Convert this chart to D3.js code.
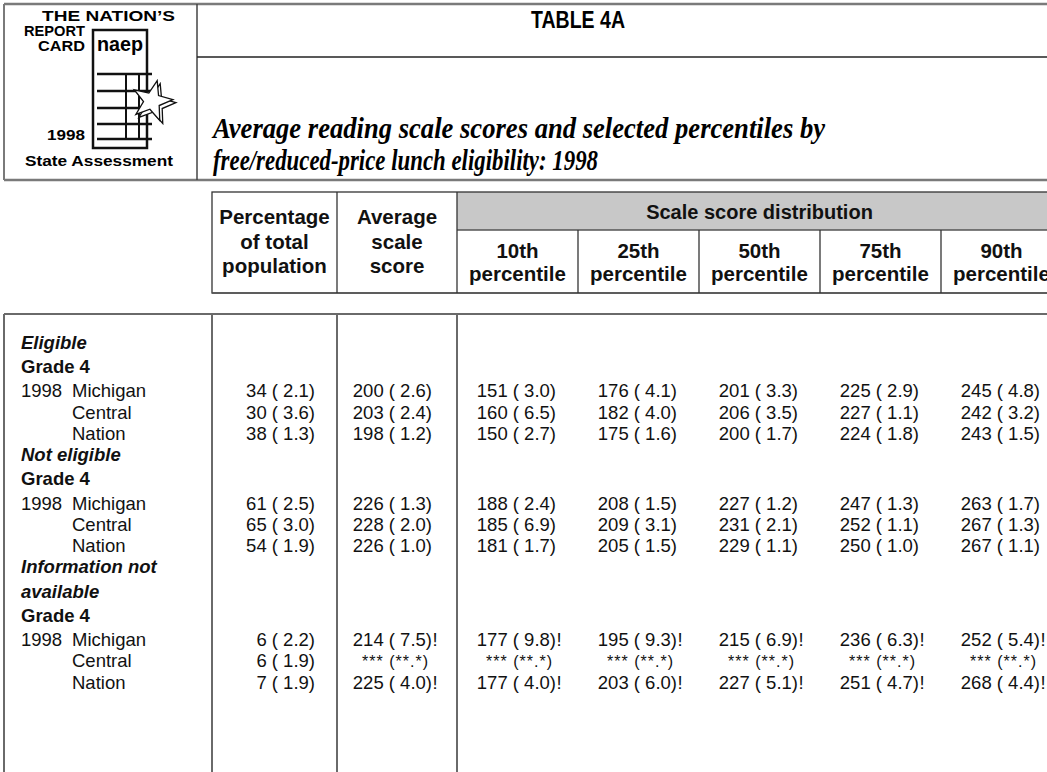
<!DOCTYPE html>
<html>
<head>
<meta charset="utf-8">
<script src="https://cdn.jsdelivr.net/npm/d3@7"></script>
<style>
  html, body { margin: 0; padding: 0; background: #fff; }
  svg { display: block; }
</style>
</head>
<body>
<script>
// ---------------- DATA ----------------
const titleText = "TABLE 4A";
const subtitleLines = [
  "Average reading scale scores and selected percentiles by",
  "free/reduced-price lunch eligibility: 1998"
];
const logoLines = ["THE NATION\u2019S", "REPORT", "CARD", "1998", "State Assessment"];
const groupLabels = ["Eligible", "Not eligible", ["Information not", "available"]];
const gradeLabel = "Grade 4";
const jurisdictions = ["Michigan", "Central", "Nation"];
const yearLabel = "1998";

const columnKeys = ["pct", "avg", "p10", "p25", "p50", "p75", "p90"];
const headerLines = [
  ["Percentage", "of total", "population"],
  ["Average", "scale", "score"],
  ["10th", "percentile"],
  ["25th", "percentile"],
  ["50th", "percentile"],
  ["75th", "percentile"],
  ["90th", "percentile"]
];
const spanHeader = "Scale score distribution";

// 9 data rows: (Eligible: MI, Central, Nation), (Not eligible: ...), (Info n/a: ...)
const pctPop     = [34, 30, 38, 61, 65, 54, 6, 6, 7];
const pctPopSE   = [2.1, 3.6, 1.3, 2.5, 3.0, 1.9, 2.2, 1.9, 1.9];
const avgScore   = [200, 203, 198, 226, 228, 226, 214, null, 225];
const avgScoreSE = [2.6, 2.4, 1.2, 1.3, 2.0, 1.0, 7.5, null, 4.0];
const p10   = [151, 160, 150, 188, 185, 181, 177, null, 177];
const p10SE = [3.0, 6.5, 2.7, 2.4, 6.9, 1.7, 9.8, null, 4.0];
const p25   = [176, 182, 175, 208, 209, 205, 195, null, 203];
const p25SE = [4.1, 4.0, 1.6, 1.5, 3.1, 1.5, 9.3, null, 6.0];
const p50   = [201, 206, 200, 227, 231, 229, 215, null, 227];
const p50SE = [3.3, 3.5, 1.7, 1.2, 2.1, 1.1, 6.9, null, 5.1];
const p75   = [225, 227, 224, 247, 252, 250, 236, null, 251];
const p75SE = [2.9, 1.1, 1.8, 1.3, 1.1, 1.0, 6.3, null, 4.7];
const p90   = [245, 242, 243, 263, 267, 267, 252, null, 268];
const p90SE = [4.8, 3.2, 1.5, 1.7, 1.3, 1.1, 5.4, null, 4.4];
// "!" = interpret with caution (applies to scores, not to percentage column)
const cautionFlag = [false, false, false, false, false, false, true, false, true];

// ---------------- LAYOUT ----------------
const W = 1047, H = 772;
const sans = "'Liberation Sans', Arial, Helvetica, sans-serif";
const narrow = "'Liberation Sans Narrow', 'Liberation Sans', Arial, sans-serif";
const serif = "'Liberation Serif', 'Times New Roman', serif";

const svg = d3.select("body").append("svg")
  .attr("width", W).attr("height", H)
  .attr("viewBox", `0 0 ${W} ${H}`);

// --- top frame ---
const frame = svg.append("g");
frame.append("line").attr("x1", 4).attr("x2", W).attr("y1", 4).attr("y2", 4)
  .attr("stroke", "#7a7a7a").attr("stroke-width", 2.5);
frame.append("line").attr("x1", 4).attr("x2", W).attr("y1", 180).attr("y2", 180)
  .attr("stroke", "#7a7a7a").attr("stroke-width", 2.5);
frame.append("line").attr("x1", 4).attr("x2", 4).attr("y1", 4).attr("y2", 180)
  .attr("stroke", "#7a7a7a").attr("stroke-width", 2);
frame.append("line").attr("x1", 197).attr("x2", 197).attr("y1", 4).attr("y2", 180)
  .attr("stroke", "#444").attr("stroke-width", 1.5);
frame.append("line").attr("x1", 197).attr("x2", W).attr("y1", 57).attr("y2", 57)
  .attr("stroke", "#222").attr("stroke-width", 1.5);

// --- logo ---
const logo = svg.append("g");
const logoSpec = [
  { x: 175, y: 21, anchor: "end", len: 133 },
  { x: 85, y: 36, anchor: "end", len: 61 },
  { x: 85, y: 51, anchor: "end", len: 47 },
  { x: 85, y: 140, anchor: "end", len: 38 },
  { x: 25, y: 166, anchor: "start", len: 148 }
];
logoLines.forEach((t, i) => {
  const s = logoSpec[i];
  logo.append("text").attr("x", s.x).attr("y", s.y)
    .attr("text-anchor", s.anchor)
    .attr("font-family", narrow).attr("font-weight", "bold")
    .attr("font-size", 15.5)
    .attr("textLength", s.len).attr("lengthAdjust", "spacingAndGlyphs")
    .text(t);
});

logo.append("rect").attr("x", 93).attr("y", 30).attr("width", 54).attr("height", 118)
  .attr("fill", "#fff").attr("stroke", "#111").attr("stroke-width", 2.5);
logo.append("text").attr("x", 97).attr("y", 51)
  .attr("font-family", narrow).attr("font-weight", "900").attr("font-size", 20)
  .attr("textLength", 46).attr("lengthAdjust", "spacingAndGlyphs")
  .text("naep");
const docLines = [74, 91, 108, 124, 139];
logo.selectAll("line.doc").data(docLines).enter().append("line")
  .attr("x1", 97).attr("x2", 152).attr("y1", d => d).attr("y2", d => d)
  .attr("stroke", "#111").attr("stroke-width", 2.5);
[126, 139].forEach(x => logo.append("line").attr("x1", x).attr("x2", x)
  .attr("y1", 74).attr("y2", 139).attr("stroke", "#111").attr("stroke-width", 2));
function starPts(cx, cy, R, r, rot) {
  const pts = [];
  for (let i = 0; i < 10; i++) {
    const a = rot + i * Math.PI / 5 - Math.PI / 2;
    const rr = i % 2 === 0 ? R : r;
    pts.push([cx + rr * Math.cos(a), cy + rr * Math.sin(a)]);
  }
  return pts.map(p => p.join(",")).join(" ");
}
logo.append("polygon").attr("points", starPts(155, 104, 21, 8.5, 0.25))
  .attr("fill", "#fff").attr("stroke", "#111").attr("stroke-width", 1.3);
logo.append("polygon").attr("points", starPts(152, 101, 21, 8.5, 0.25))
  .attr("fill", "#fff").attr("stroke", "#111").attr("stroke-width", 1.3);

// --- title & subtitle ---
svg.append("text").attr("x", 578).attr("y", 28).attr("text-anchor", "middle")
  .attr("font-family", narrow).attr("font-weight", "bold").attr("font-size", 23)
  .attr("textLength", 94).attr("lengthAdjust", "spacingAndGlyphs")
  .text(titleText);
const subLens = [612, 385];
const subY = [138, 170];
subtitleLines.forEach((t, i) => {
  svg.append("text").attr("x", 213).attr("y", subY[i])
    .attr("font-family", serif).attr("font-weight", "bold").attr("font-style", "italic")
    .attr("font-size", 29)
    .attr("textLength", subLens[i]).attr("lengthAdjust", "spacingAndGlyphs")
    .text(t);
});

// --- table scales ---
const colLeft = d3.scaleOrdinal().domain(columnKeys).range([212, 337, 457, 578, 699, 820, 941]);
const colRight = d3.scaleOrdinal().domain(columnKeys).range([337, 457, 578, 699, 820, 941, 1062]);
const colPad = d3.scaleOrdinal().domain(columnKeys).range([22, 25, 22, 22, 22, 22, 22]);
const pctKeys = columnKeys.slice(2);

// --- header ---
const hdrTop = 192, bandBottom = 230, hdrBottom = 293;
const hdr = svg.append("g");
hdr.append("rect").attr("x", colLeft("p10")).attr("y", hdrTop)
  .attr("width", colRight("p90") - colLeft("p10")).attr("height", bandBottom - hdrTop)
  .attr("fill", "#c8c8c8");
hdr.append("rect").attr("x", colLeft("pct")).attr("y", hdrTop)
  .attr("width", colRight("p90") - colLeft("pct")).attr("height", hdrBottom - hdrTop)
  .attr("fill", "none").attr("stroke", "#333").attr("stroke-width", 1.3);
hdr.append("line").attr("x1", colLeft("p10")).attr("x2", colRight("p90"))
  .attr("y1", bandBottom).attr("y2", bandBottom).attr("stroke", "#555").attr("stroke-width", 1.5);
hdr.append("line").attr("x1", colLeft("pct")).attr("x2", colRight("p90"))
  .attr("y1", hdrBottom).attr("y2", hdrBottom).attr("stroke", "#555").attr("stroke-width", 1.5);
["avg", "p10"].forEach(k => hdr.append("line")
  .attr("x1", colLeft(k)).attr("x2", colLeft(k)).attr("y1", hdrTop).attr("y2", hdrBottom)
  .attr("stroke", "#333").attr("stroke-width", 1.3));
pctKeys.slice(1).forEach(k => hdr.append("line")
  .attr("x1", colLeft(k)).attr("x2", colLeft(k)).attr("y1", bandBottom).attr("y2", hdrBottom)
  .attr("stroke", "#333").attr("stroke-width", 1.3));
hdr.append("text").attr("x", (colLeft("p10") + colRight("p90")) / 2).attr("y", 219)
  .attr("text-anchor", "middle").attr("font-family", sans).attr("font-weight", "bold")
  .attr("font-size", 20).attr("fill", "#111").text(spanHeader);
columnKeys.forEach((k, i) => {
  const lines = headerLines[i];
  const cx = (colLeft(k) + colRight(k)) / 2;
  const ys = i < 2 ? [224, 249, 273] : [258, 281];
  lines.forEach((t, j) => {
    hdr.append("text").attr("x", cx).attr("y", ys[j]).attr("text-anchor", "middle")
      .attr("font-family", sans).attr("font-weight", "bold").attr("font-size", 20.5)
      .attr("fill", "#111").text(t);
  });
});

// --- body frame ---
const bodyTop = 314;
const body = svg.append("g");
body.append("line").attr("x1", 4).attr("x2", W).attr("y1", bodyTop).attr("y2", bodyTop)
  .attr("stroke", "#6a6a6a").attr("stroke-width", 2);
[4, colLeft("pct"), colLeft("avg"), colLeft("p10")].forEach(x => body.append("line")
  .attr("x1", x).attr("x2", x).attr("y1", bodyTop).attr("y2", H)
  .attr("stroke", "#6a6a6a").attr("stroke-width", 2));

// --- rows ---
const rows = [];
let dataIdx = 0;
groupLabels.forEach(g => {
  (Array.isArray(g) ? g : [g]).forEach(t => rows.push({ type: "group", text: t }));
  rows.push({ type: "grade", text: gradeLabel });
  jurisdictions.forEach((j, ji) => rows.push({ type: "data", text: j, first: ji === 0, idx: dataIdx++ }));
});
// row pitch: tighter after a data row, looser after a label row
const gaps = rows.map((r, i) => i === 0 ? 0 : (rows[i - 1].type === "data" ? 21.2 : 24.4));
const offsets = d3.cumsum(gaps);
const yRow = d3.scaleLinear().domain([0, offsets[offsets.length - 1]]).range([342, 682]);
const fs = 18.5;
const base = i => yRow(offsets[i]) + 6.6;

const colData = {
  pct: [pctPop, pctPopSE], avg: [avgScore, avgScoreSE],
  p10: [p10, p10SE], p25: [p25, p25SE], p50: [p50, p50SE], p75: [p75, p75SE], p90: [p90, p90SE]
};
const fmt = d3.format(".1f");

rows.forEach((r, i) => {
  const y = base(i);
  if (r.type === "group") {
    body.append("text").attr("x", 21).attr("y", y).attr("font-family", sans)
      .attr("font-weight", "bold").attr("font-style", "italic").attr("font-size", fs)
      .attr("fill", "#111").text(r.text);
  } else if (r.type === "grade") {
    body.append("text").attr("x", 21).attr("y", y).attr("font-family", sans)
      .attr("font-weight", "bold").attr("font-size", fs).attr("fill", "#111").text(r.text);
  } else {
    if (r.first) body.append("text").attr("x", 21).attr("y", y).attr("font-family", sans)
      .attr("font-size", fs).attr("fill", "#111").text(yearLabel);
    body.append("text").attr("x", 72).attr("y", y).attr("font-family", sans)
      .attr("font-size", fs).attr("fill", "#111").text(r.text);
    columnKeys.forEach(k => {
      const [vals, ses] = colData[k];
      const v = vals[r.idx], se = ses[r.idx];
      const xr = colRight(k) - colPad(k);
      if (v === null) {
        body.append("text").attr("x", xr - 4).attr("y", y).attr("text-anchor", "end")
          .attr("font-family", sans).attr("font-size", 16).attr("fill", "#111")
          .attr("textLength", 66).attr("lengthAdjust", "spacing")
          .text("*** (**.*)");
      } else {
        body.append("text").attr("x", xr).attr("y", y).attr("text-anchor", "end")
          .attr("font-family", sans).attr("font-size", fs).attr("fill", "#111")
          .text(`${v} ( ${fmt(se)})`);
        if (k !== "pct" && cautionFlag[r.idx]) {
          body.append("text").attr("x", xr + 0.5).attr("y", y)
            .attr("font-family", sans).attr("font-size", fs).attr("fill", "#111").text("!");
        }
      }
    });
  }
});
</script>
</body>
</html>
